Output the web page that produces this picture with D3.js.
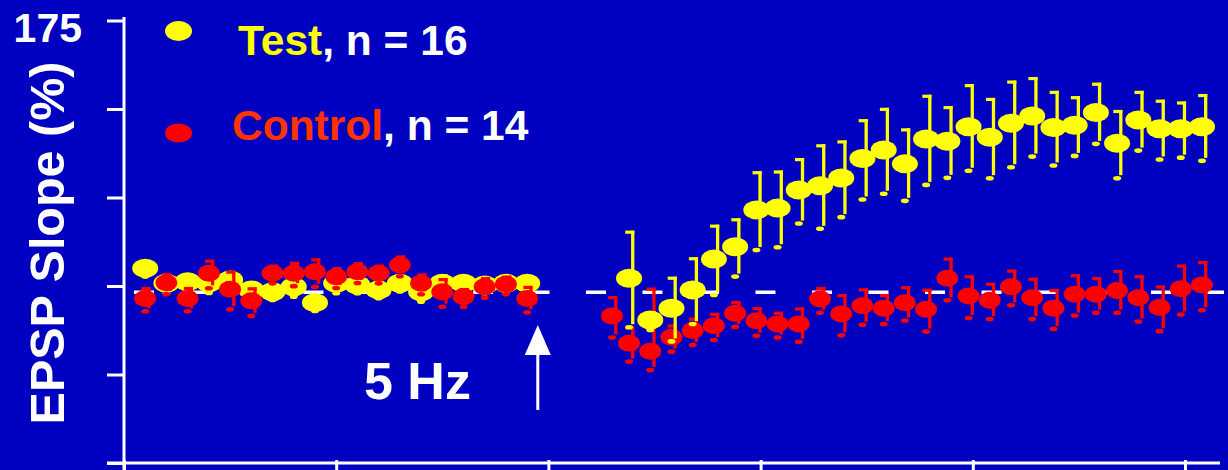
<!DOCTYPE html>
<html>
<head>
<meta charset="utf-8">
<script src="https://cdn.jsdelivr.net/npm/d3@7"></script>
<style>
  html, body { margin: 0; padding: 0; background: #0000C0; }
  svg { display: block; }
  text { font-family: "Liberation Sans", Arial, sans-serif; font-weight: bold; }
</style>
</head>
<body>
<svg id="chart" width="1228" height="470"></svg>
<script>
// ---------- DATA ----------
const xTicks = [0, 10, 20, 30, 40, 50];
const yTicks = [50, 75, 100, 125, 150, 175];
const yTickLabels = ["", "", "", "", "", "175"];
const referenceLevel = 98.2;   // dashed baseline

// Baseline (before 5 Hz)
const testBaseX   = [1,2,3,4,5,6,7,8,9,10,11,12,13,14,15,16,17,18,19];
const testBaseY   = [105.0,100.8,101.2,100.9,101.7,98.9,98.4,99.8,95.3,100.8,100.3,98.9,100.8,98.4,100.8,100.8,100.3,100.8,100.8];
const testBaseErr = [1.5,2.0,1.5,2.0,2.0,1.5,1.5,2.0,1.5,2.0,1.5,1.5,1.5,2.0,2.0,1.5,1.5,1.5,1.5];

const ctlBaseX   = [1,2,3,4,5,6,7,8,9,10,11,12,13,14,15,16,17,18,19];
const ctlBaseY   = [96.5,100.9,96.5,103.6,99.1,95.8,103.6,103.6,104.0,102.6,104.0,103.6,105.9,100.8,98.4,97.0,99.8,100.5,96.5];
const ctlBaseErr = [2.8,2.3,2.8,3.4,4.8,3.4,2.0,2.8,3.4,2.3,2.3,2.0,2.3,2.3,3.4,2.0,2.3,2.0,3.1];

// After 5 Hz
const testPostX   = [23.8,24.8,25.8,26.8,27.8,28.8,29.8,30.8,31.8,32.8,33.8,34.8,35.8,36.8,37.8,38.8,39.8,40.8,41.8,42.8,43.8,44.8,45.8,46.8,47.8,48.8,49.8,50.8];
const testPostY   = [102.2,90.4,93.7,98.9,107.6,111.1,121.5,122.0,127.1,128.3,130.5,136.0,138.4,134.5,141.5,140.9,145.0,142.0,146.0,148.0,144.8,145.4,149.0,140.3,146.9,144.4,144.4,145.0];
const testPostErr = [13.0,2.0,8.5,8.8,9.3,7.6,10.5,10.2,8.6,11.3,10.2,10.7,11.5,9.6,12.1,9.5,11.6,10.7,11.6,10.6,9.9,7.8,8.0,9.0,7.8,7.8,7.3,8.8];

const ctlPostX     = [23.0,23.8,24.8,25.8,26.8,27.8,28.8,29.8,30.8,31.8,32.8,33.8,34.8,35.8,36.8,37.8,38.8,39.8,40.8,41.8,42.8,43.8,44.8,45.8,46.8,47.8,48.8,49.8,50.8];
const ctlPostY     = [91.5,83.8,81.6,85.5,87.4,88.8,92.3,90.2,89.3,89.3,96.3,92.1,94.4,93.7,95.3,93.4,102.2,97.2,96.0,99.8,96.7,93.7,97.7,97.7,98.7,96.7,93.9,99.2,100.3];
const ctlPostErrUp = [5.2,4.3,17.5,3.2,3.2,3.2,3.0,3.4,3.0,4.2,3.0,5.2,4.5,3.6,4.2,5.4,5.4,5.4,4.5,4.4,5.2,5.0,5.2,4.4,5.4,5.9,5.8,6.4,6.3];
const ctlPostErrDn = [5.2,4.3,4.5,3.2,3.2,3.2,3.0,3.4,3.0,4.2,3.0,5.2,4.5,3.6,4.2,5.4,5.4,5.4,4.5,4.4,5.2,5.0,5.2,4.4,5.4,5.9,5.8,6.4,6.3];

const legendItems = [
  { name: "Test", rest: ", n = 16", color: "#FFFF00", textColor: "#FFFF00" },
  { name: "Control", rest: ", n = 14", color: "#FF0000", textColor: "#FF3300" }
];
const yTitle = "EPSP Slope (%)";
const stimLabel = "5 Hz";
const stimX = 19.5;

// ---------- CHART ----------
const svg = d3.select("#chart");
const W = 1228, H = 470;
svg.append("rect").attr("width", W).attr("height", H).attr("fill", "#0000C0");

const x = d3.scaleLinear().domain([0, 50]).range([124, 1185]);
const y = d3.scaleLinear().domain([50, 175]).range([463, 20.5]);

const WHITE = "#FFFFFF";

// Y axis
const yAxis = d3.axisLeft(y).tickValues(yTicks).tickSize(17).tickSizeOuter(0).tickFormat(() => "");
const gy = svg.append("g").attr("transform", `translate(${x(0)},0)`).call(yAxis);
gy.select(".domain").remove();
gy.selectAll(".tick line").attr("stroke", WHITE).attr("stroke-width", 3);
svg.append("line").attr("x1", x(0)).attr("x2", x(0)).attr("y1", y(175) - 3.5).attr("y2", H)
  .attr("stroke", WHITE).attr("stroke-width", 3);

// Y tick labels
svg.selectAll(".ylab").data(yTicks.map((v, i) => ({ v, t: yTickLabels[i] })).filter(d => d.t))
  .enter().append("text")
  .attr("x", x(0) - 42).attr("y", d => y(d.v) + 21.5)
  .attr("text-anchor", "end").attr("fill", WHITE).attr("font-size", 41)
  .text(d => d.t);

// X axis
const xAxis = d3.axisBottom(x).tickValues(xTicks).tickSize(8).tickSizeOuter(0).tickFormat(() => "");
const gx = svg.append("g").attr("transform", `translate(0,${y(50)})`).call(xAxis);
gx.select(".domain").remove();
gx.selectAll(".tick line").attr("stroke", WHITE).attr("stroke-width", 3).attr("y1", -3);
svg.append("line").attr("x1", x(0) - 17).attr("x2", 1220).attr("y1", y(50)).attr("y2", y(50))
  .attr("stroke", WHITE).attr("stroke-width", 3);

// Y title
svg.append("text")
  .attr("transform", `translate(64,${243}) rotate(-90)`)
  .attr("text-anchor", "middle").attr("fill", WHITE).attr("font-size", 48.5)
  .text(yTitle);

// Dashed reference line
svg.append("line")
  .attr("x1", x(0.47)).attr("x2", 1224)
  .attr("y1", y(referenceLevel)).attr("y2", y(referenceLevel))
  .attr("stroke", WHITE).attr("stroke-width", 3.5).attr("stroke-dasharray", "20 36.5");

// Series drawing
function drawSeries(xs, ys, errUp, errDn, color, rx, ry) {
  const data = xs.map((xv, i) => ({ x: xv, y: ys[i], eu: errUp[i], ed: errDn[i] }));
  const g = svg.append("g");
  const eb = g.selectAll(".eb").data(data).enter().append("g");
  eb.append("line")
    .attr("x1", d => x(d.x) + 3.7).attr("x2", d => x(d.x) + 3.7)
    .attr("y1", d => y(d.y + d.eu) - 1.5).attr("y2", d => y(d.y - d.ed))
    .attr("stroke", color).attr("stroke-width", 3.3);
  eb.append("line")
    .attr("x1", d => x(d.x) - 3.8).attr("x2", d => x(d.x) + 5.3)
    .attr("y1", d => y(d.y + d.eu)).attr("y2", d => y(d.y + d.eu))
    .attr("stroke", color).attr("stroke-width", 3.2);
  eb.append("ellipse")
    .attr("cx", d => x(d.x)).attr("cy", d => y(d.y - d.ed) + 3)
    .attr("rx", 4).attr("ry", 2.3).attr("fill", color);
  g.selectAll(".mk").data(data).enter().append("ellipse")
    .attr("cx", d => x(d.x)).attr("cy", d => y(d.y))
    .attr("rx", rx).attr("ry", ry).attr("fill", color);
}

drawSeries(testBaseX, testBaseY, testBaseErr, testBaseErr, "#FFFF00", 13, 9.5);
drawSeries(ctlBaseX, ctlBaseY, ctlBaseErr, ctlBaseErr, "#FF0000", 11, 8.5);
drawSeries(ctlPostX, ctlPostY, ctlPostErrUp, ctlPostErrDn, "#FF0000", 11, 8.5);
drawSeries(testPostX, testPostY, testPostErr, testPostErr, "#FFFF00", 13, 9.5);

// Legend
const legendPos = [{ mx: 178.5, my: 31, ry: 10, tx: 238, ty: 55 }, { mx: 178.5, my: 133, ry: 9.5, tx: 232, ty: 140 }];
legendItems.forEach((it, i) => {
  const p = legendPos[i];
  svg.append("ellipse").attr("cx", p.mx).attr("cy", p.my).attr("rx", 13.5).attr("ry", p.ry).attr("fill", it.color);
  const t = svg.append("text").attr("x", p.tx).attr("y", p.ty).attr("font-size", 42.5).attr("fill", WHITE);
  t.append("tspan").attr("fill", it.textColor).text(it.name);
  t.append("tspan").attr("fill", WHITE).text(it.rest);
});

// Stimulus arrow and label
const ax = x(stimX);
svg.append("line").attr("x1", ax).attr("x2", ax).attr("y1", 410).attr("y2", 350)
  .attr("stroke", WHITE).attr("stroke-width", 3);
svg.append("path").attr("d", `M${ax},325 L${ax - 13},355 L${ax + 13},355 Z`).attr("fill", WHITE);
svg.append("text").attr("x", 364).attr("y", 399).attr("font-size", 52).attr("fill", WHITE).text(stimLabel);
</script>
</body>
</html>
